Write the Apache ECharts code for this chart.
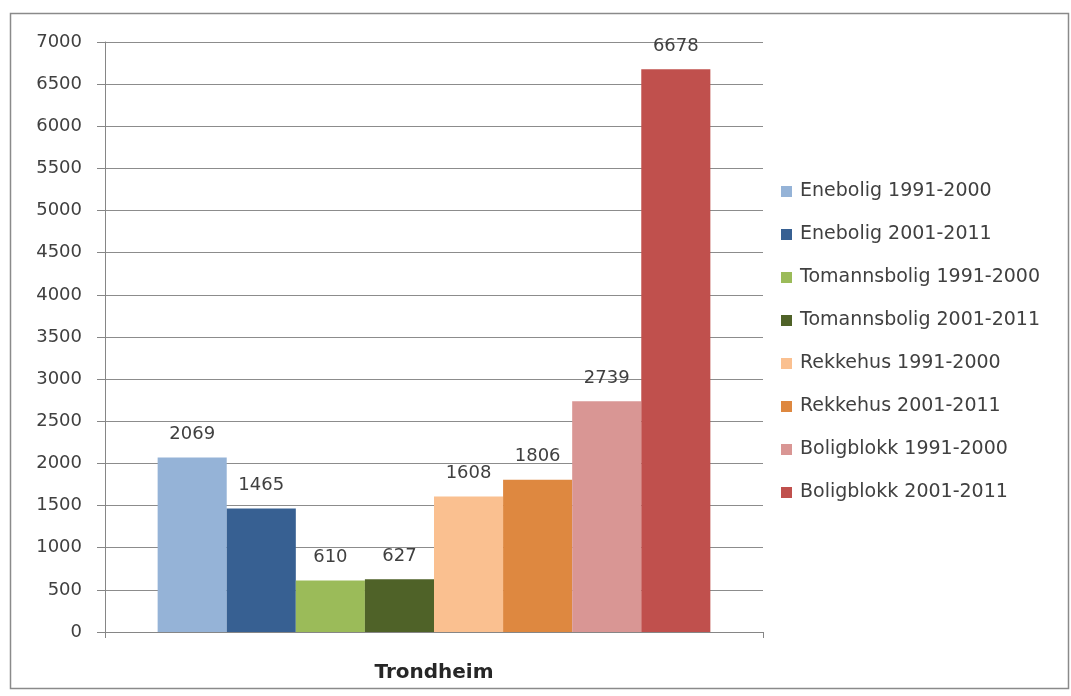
<!DOCTYPE html>
<html>
<head>
<meta charset="utf-8">
<script src="https://cdn.jsdelivr.net/npm/echarts@6/dist/echarts.min.js"></script>
<style>
  html, body { margin: 0; padding: 0; background: #ffffff; }
  #chart { width: 1071px; height: 696px; }
</style>
</head>
<body>
<div id="chart"></div>
<script>
// Completed dwellings in Trondheim by building type and period
const categories = ['Trondheim'];
const seriesNames = [
  'Enebolig 1991-2000',
  'Enebolig 2001-2011',
  'Tomannsbolig 1991-2000',
  'Tomannsbolig 2001-2011',
  'Rekkehus 1991-2000',
  'Rekkehus 2001-2011',
  'Boligblokk 1991-2000',
  'Boligblokk 2001-2011'
];
const seriesValues = [2069, 1465, 610, 627, 1608, 1806, 2739, 6678];
const seriesColors = ['#95B3D7', '#376092', '#9BBB59', '#4F6228', '#FAC090', '#DE8840', '#D99694', '#C0504D'];

const fontFamily = '"DejaVu Sans", sans-serif';
const textColor = '#404040';

const chart = echarts.init(document.getElementById('chart'), null, { renderer: 'canvas' });

const series = seriesNames.map((name, i) => ({
  name: name,
  type: 'bar',
  data: [seriesValues[i]],
  itemStyle: { color: seriesColors[i] },
  barGap: '0%',
  barCategoryGap: '16%',
  label: {
    show: true,
    position: 'top',
    distance: 14,
    color: textColor,
    fontFamily: fontFamily,
    fontSize: 18
  }
}));

chart.setOption({
  animation: false,
  backgroundColor: '#ffffff',
  graphic: [{
    type: 'rect',
    shape: { x: 10.5, y: 13.5, width: 1058, height: 675 },
    style: { fill: 'none', stroke: '#8a8a8a', lineWidth: 1.5 },
    silent: true
  }],
  grid: { left: 105, right: 308, top: 42, bottom: 64, containLabel: false },
  legend: {
    orient: 'vertical',
    left: 776,
    top: 177,
    itemWidth: 11,
    itemHeight: 11,
    itemGap: 24,
    icon: 'rect',
    data: seriesNames,
    textStyle: { color: textColor, fontFamily: fontFamily, fontSize: 19, padding: [0, 0, 0, 3] }
  },
  xAxis: {
    type: 'category',
    data: categories,
    axisLine: { show: true, lineStyle: { color: '#868686', width: 1 } },
    axisTick: { show: true, length: 6, lineStyle: { color: '#868686' } },
    axisLabel: {
      color: '#262626',
      fontFamily: fontFamily,
      fontWeight: 'bold',
      fontSize: 20,
      margin: 31
    }
  },
  yAxis: {
    type: 'value',
    min: 0,
    max: 7000,
    interval: 500,
    axisLine: { show: true, lineStyle: { color: '#868686', width: 1 } },
    axisTick: { show: true, length: 8, lineStyle: { color: '#868686' } },
    splitLine: { show: true, lineStyle: { color: '#8c8c8c', width: 1 } },
    axisLabel: {
      color: textColor,
      fontFamily: fontFamily,
      fontSize: 18,
      margin: 23,
      formatter: (v) => String(v)
    }
  },
  series: series
});
</script>
</body>
</html>
